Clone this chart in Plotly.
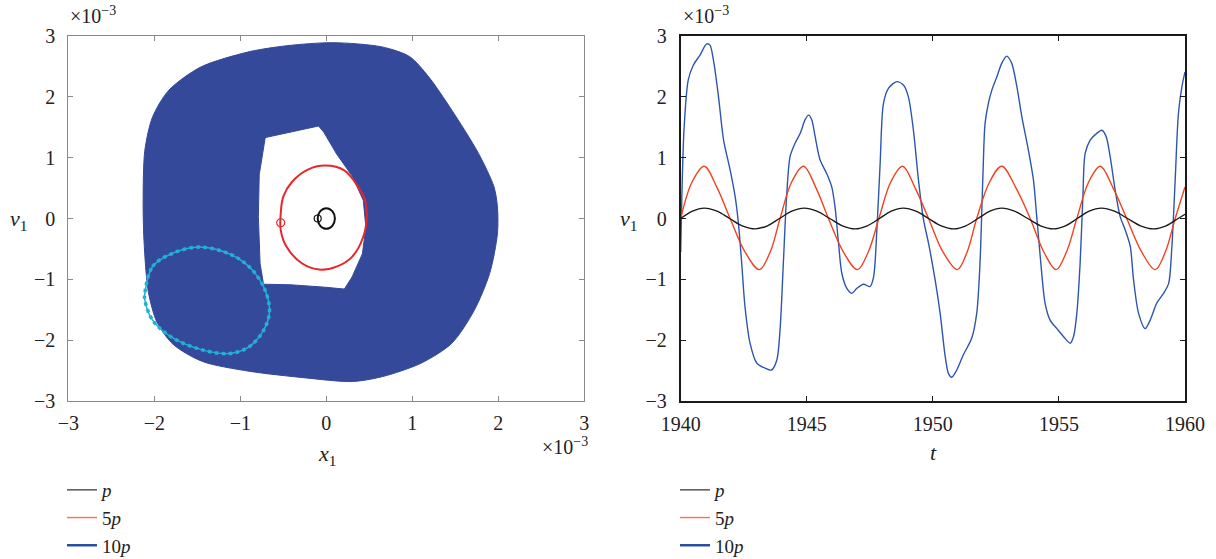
import plotly.graph_objects as go

# ---------------- data: left panel (phase portrait, units 1e-3) ----------------
torus_outer_x = [0.08, 0.65, 0.97, 1.19, 1.46, 1.77, 1.95, 1.99, 1.99, 1.90, 1.72, 1.46, 1.10, 0.65, 0.30,
                 -0.24, -0.90, -1.44, -1.78, -1.97, -2.07, -2.12, -2.13, -2.11, -2.02, -1.83, -1.46, -0.90, -0.46]
torus_outer_y = [2.89, 2.82, 2.66, 2.33, 1.78, 1.07, 0.52, 0.19, -0.25, -0.90, -1.51, -2.05, -2.38, -2.60, -2.68,
                 -2.62, -2.51, -2.35, -2.07, -1.70, -1.20, -0.36, 0.30, 1.12, 1.67, 2.11, 2.49, 2.74, 2.84]
torus_inner_x = [-0.71, -0.09, -0.03, 0.12, 0.30, 0.43, 0.46, 0.42, 0.30, 0.21, -0.01, -0.41, -0.73, -0.77, -0.79, -0.78]
torus_inner_y = [1.33, 1.52, 1.42, 1.06, 0.70, 0.30, -0.14, -0.58, -0.96, -1.16, -1.13, -1.09, -1.08, -0.74, 0.03, 0.72]

red_phase_x = [-0.01, 0.21, 0.37, 0.45, 0.47, 0.43, 0.30, 0.12, -0.08, -0.28, -0.46, -0.53, -0.53, -0.50, -0.40, -0.22, -0.01]
red_phase_y = [0.87, 0.79, 0.52, 0.30, 0.03, -0.30, -0.63, -0.79, -0.84, -0.74, -0.47, -0.19, 0.08, 0.36, 0.60, 0.80, 0.87]

black_phase_x = [0.10, 0.07, 0.00, -0.07, -0.10, -0.07, 0.00, 0.07, 0.10]
black_phase_y = [0.00, 0.12, 0.17, 0.12, 0.00, -0.12, -0.17, -0.12, 0.00]

cyan_x = [-2.11, -2.02, -1.80, -1.48, -1.13, -0.90, -0.73, -0.66, -0.73, -0.90, -1.13, -1.44, -1.80, -2.02, -2.11, -2.11]
cyan_y = [-1.23, -0.79, -0.58, -0.47, -0.58, -0.79, -1.12, -1.51, -1.84, -2.11, -2.22, -2.16, -1.95, -1.67, -1.34, -1.23]

start_red = ([-0.53], [-0.07])
start_black = ([-0.10], [0.00])

# ---------------- data: right panel (time series) ----------------
blue_t = [1940.0, 1940.13, 1940.3, 1940.5, 1940.77, 1941.03, 1941.16, 1941.3, 1941.5, 1941.7,
          1941.96, 1942.16, 1942.29, 1942.42, 1942.55, 1942.75, 1943.02, 1943.35, 1943.6, 1943.81,
          1943.94, 1944.07, 1944.2, 1944.34, 1944.54, 1944.74, 1944.93, 1945.07, 1945.2, 1945.33,
          1945.53, 1945.79, 1945.99, 1946.12, 1946.26, 1946.39, 1946.59, 1946.79, 1946.98, 1947.25,
          1947.51, 1947.65, 1947.78, 1947.91, 1948.04, 1948.24, 1948.57, 1948.84, 1949.03, 1949.23,
          1949.43, 1949.63, 1949.83,
          1950.09, 1950.29, 1950.49, 1950.62, 1950.75, 1950.95, 1951.21, 1951.54, 1951.74, 1951.87,
          1951.98, 1952.07, 1952.2, 1952.34, 1952.54, 1952.73, 1952.93, 1953.13, 1953.33, 1953.53,
          1953.79, 1953.99, 1954.12, 1954.26, 1954.45, 1954.65, 1954.92, 1955.18, 1955.45, 1955.58,
          1955.71, 1955.84, 1955.95, 1956.04, 1956.24, 1956.5, 1956.7, 1956.87, 1957.03, 1957.23,
          1957.43, 1957.63, 1957.83, 1957.96, 1958.16, 1958.42, 1958.62, 1958.88, 1959.15, 1959.35,
          1959.48, 1959.61, 1959.74, 1959.88, 1960.0]
blue_v = [-0.55, 1.45, 2.28, 2.52, 2.69, 2.87, 2.85, 2.6, 2.0, 1.29,
          0.8, 0.36, -0.08, -0.74, -1.45, -2.05, -2.38, -2.46, -2.49, -2.33,
          -1.83, -0.74, 0.36, 1.02, 1.24, 1.4, 1.62, 1.70, 1.62, 1.35,
          0.96, 0.74, 0.52, 0.19, -0.41, -0.9, -1.15, -1.23, -1.15, -1.08,
          -1.12, -0.96, -0.19, 0.91, 1.89, 2.14, 2.25, 2.19, 2.0, 1.45,
          0.63, -0.02, -0.41,
          -1.01, -1.56, -2.27, -2.55, -2.61, -2.49, -2.24, -1.97, -1.56, -0.74,
          0.63, 1.56, 1.89, 2.11, 2.33, 2.55, 2.67, 2.55, 2.17, 1.67,
          1.12, 0.63, 0.03, -0.63, -1.39, -1.67, -1.81, -1.94, -2.05, -1.94,
          -1.56, -0.74, 0.36, 1.07, 1.29, 1.4, 1.45, 1.35, 1.02, 0.47,
          0.03, -0.19, -0.46, -1.01, -1.56, -1.81, -1.67, -1.39, -1.23, -1.07,
          -0.46, 0.63, 1.73, 2.17, 2.41]

red_t = [1940.0, 1940.45, 1940.93, 1941.45, 1941.96, 1942.55, 1943.12, 1943.55, 1943.94, 1944.4,
         1944.87, 1945.37, 1945.86, 1946.45, 1947.01, 1947.44, 1947.86, 1948.33, 1948.8, 1949.3,
         1949.83, 1950.4, 1950.97, 1951.36, 1951.74, 1952.25, 1952.73, 1953.3, 1953.86, 1954.4,
         1954.89, 1955.3, 1955.71, 1956.18, 1956.64, 1957.15, 1957.69, 1958.28, 1958.82, 1959.22,
         1959.61, 1960.0]
red_v = [0.0, 0.6, 0.86, 0.5, 0.0, -0.55, -0.84, -0.55, 0.0, 0.6,
         0.86, 0.5, 0.0, -0.55, -0.84, -0.55, 0.0, 0.6, 0.86, 0.5,
         0.0, -0.55, -0.84, -0.55, 0.0, 0.6, 0.86, 0.5, 0.0, -0.55,
         -0.84, -0.55, 0.0, 0.6, 0.86, 0.5, 0.0, -0.55, -0.84, -0.55,
         0.0, 0.52]

black_t = [1940.0, 1940.47, 1940.93, 1941.44, 1941.94, 1942.44, 1942.95, 1943.44, 1943.92, 1944.41,
           1944.9, 1945.4, 1945.91, 1946.41, 1946.92, 1947.4, 1947.88, 1948.35, 1948.83, 1949.33,
           1949.83, 1950.33, 1950.84, 1951.31, 1951.79, 1952.26, 1952.73, 1953.24, 1953.76, 1954.27,
           1954.78, 1955.26, 1955.73, 1956.2, 1956.68, 1957.2, 1957.72, 1958.23, 1958.75, 1959.25,
           1959.73, 1960.0]
black_v = [0.0, 0.12, 0.17, 0.12, 0.0, -0.12, -0.17, -0.12, 0.0, 0.12,
           0.17, 0.12, 0.0, -0.12, -0.17, -0.12, 0.0, 0.12, 0.17, 0.12,
           0.0, -0.12, -0.17, -0.12, 0.0, 0.12, 0.17, 0.12, 0.0, -0.12,
           -0.17, -0.12, 0.0, 0.12, 0.17, 0.12, 0.0, -0.12, -0.17, -0.12,
           0.0, 0.07]

legend_names = ["<i>p</i>", "5<i>p</i>", "10<i>p</i>"]
legend_colors = ["#555555", "#F07a68", "#2B4FA0"]
legend_widths = [1.5, 1.5, 2.5]

SERIF = "Liberation Serif, Times New Roman, serif"
W, H = 1216, 559

fig = go.Figure()

# ----- left panel -----
fig.add_trace(go.Scatter(x=torus_outer_x + [torus_outer_x[0]], y=torus_outer_y + [torus_outer_y[0]],
                         mode="lines", line=dict(color="#34499A", width=1, shape="spline", smoothing=0.8),
                         fill="toself", fillcolor="#34499A", showlegend=False, hoverinfo="skip",
                         xaxis="x", yaxis="y"))
fig.add_trace(go.Scatter(x=torus_inner_x + [torus_inner_x[0]], y=torus_inner_y + [torus_inner_y[0]],
                         mode="lines", line=dict(color="#34499A", width=1),
                         fill="toself", fillcolor="white", showlegend=False, hoverinfo="skip",
                         xaxis="x", yaxis="y"))
fig.add_trace(go.Scatter(x=cyan_x, y=cyan_y, mode="lines",
                         line=dict(color="#22B0D4", width=1.5, shape="spline", smoothing=1.0),
                         showlegend=False, hoverinfo="skip", xaxis="x", yaxis="y"))
fig.add_trace(go.Scatter(x=cyan_x, y=cyan_y, mode="lines",
                         line=dict(color="#22B0D4", width=3.5, shape="spline", smoothing=1.0, dash="dot"),
                         showlegend=False, hoverinfo="skip", xaxis="x", yaxis="y"))
fig.add_trace(go.Scatter(x=red_phase_x, y=red_phase_y, mode="lines",
                         line=dict(color="#E8262A", width=2, shape="spline", smoothing=1.0),
                         showlegend=False, hoverinfo="skip", xaxis="x", yaxis="y"))
fig.add_trace(go.Scatter(x=black_phase_x, y=black_phase_y, mode="lines",
                         line=dict(color="#111111", width=2, shape="spline", smoothing=1.0),
                         showlegend=False, hoverinfo="skip", xaxis="x", yaxis="y"))
fig.add_trace(go.Scatter(x=start_red[0], y=start_red[1], mode="markers",
                         marker=dict(symbol="circle-open", size=8, color="#E8262A", line=dict(width=1.2)),
                         showlegend=False, hoverinfo="skip", xaxis="x", yaxis="y"))
fig.add_trace(go.Scatter(x=start_black[0], y=start_black[1], mode="markers",
                         marker=dict(symbol="circle-open", size=7, color="#111111", line=dict(width=1.2)),
                         showlegend=False, hoverinfo="skip", xaxis="x", yaxis="y"))

# ----- right panel -----
fig.add_trace(go.Scatter(x=blue_t, y=blue_v, mode="lines",
                         line=dict(color="#2D56AE", width=1.4, shape="spline", smoothing=0.8),
                         showlegend=False, hoverinfo="skip", xaxis="x2", yaxis="y2"))
fig.add_trace(go.Scatter(x=red_t, y=red_v, mode="lines",
                         line=dict(color="#F0421F", width=1.4, shape="spline", smoothing=1.0),
                         showlegend=False, hoverinfo="skip", xaxis="x2", yaxis="y2"))
fig.add_trace(go.Scatter(x=black_t, y=black_v, mode="lines",
                         line=dict(color="#1a1a1a", width=1.4, shape="spline", smoothing=1.0),
                         showlegend=False, hoverinfo="skip", xaxis="x2", yaxis="y2"))

# ----- legend entries (one legend under each panel) -----
for lg in ["legend", "legend2"]:
    for i, (nm, col, wd) in enumerate(zip(legend_names, legend_colors, legend_widths)):
        fig.add_trace(go.Scatter(x=[None], y=[None], mode="lines", name=nm,
                                 line=dict(color=col, width=wd), legend=lg, legendgroup=f"{lg}{i}",
                                 xaxis="x" if lg == "legend" else "x2",
                                 yaxis="y" if lg == "legend" else "y2"))

tickfont = dict(family=SERIF, size=20, color="#222222")
ydom = [1 - 401 / H, 1 - 36 / H]

common_ax = dict(ticks="inside", ticklen=5, showline=True, mirror="ticks", showgrid=False,
                 zeroline=False, tickfont=tickfont, automargin=False)

legfont = dict(family=SERIF, size=19, color="#222222")
fig.update_layout(
    width=W, height=H, autosize=False,
    margin=dict(l=0, r=0, t=0, b=0, pad=0, autoexpand=False),
    paper_bgcolor="white", plot_bgcolor="white",
    xaxis=dict(domain=[68.3 / W, 584.3 / W], range=[-3, 3], tickvals=[-3, -2, -1, 0, 1, 2, 3],
               linecolor="#8a8a8a", tickcolor="#8a8a8a", linewidth=1, anchor="y",
               ticklabelstandoff=4, **common_ax),
    yaxis=dict(domain=ydom, range=[-3, 3], tickvals=[-3, -2, -1, 0, 1, 2, 3],
               linecolor="#8a8a8a", tickcolor="#8a8a8a", linewidth=1, anchor="x",
               ticklabelstandoff=8, **common_ax),
    xaxis2=dict(domain=[680.7 / W, 1185 / W], range=[1940, 1960], tickvals=[1940, 1945, 1950, 1955, 1960],
                linecolor="#1a1a1a", tickcolor="#1a1a1a", linewidth=2, anchor="y2",
                ticklabelstandoff=4, **common_ax),
    yaxis2=dict(domain=ydom, range=[-3, 3], tickvals=[-3, -2, -1, 0, 1, 2, 3],
                linecolor="#1a1a1a", tickcolor="#1a1a1a", linewidth=2, anchor="x2",
                ticklabelstandoff=8, **common_ax),
    legend=dict(x=62 / W, y=1 - 471 / H, xanchor="left", yanchor="top", bgcolor="rgba(0,0,0,0)",
                font=legfont, tracegroupgap=0, itemwidth=30),
    legend2=dict(x=675 / W, y=1 - 471 / H, xanchor="left", yanchor="top", bgcolor="rgba(0,0,0,0)",
                 font=legfont, tracegroupgap=0, itemwidth=30),
    showlegend=True,
)

ann_font = dict(family=SERIF, size=20, color="#222222")
lab_font = dict(family=SERIF, size=22, color="#222222")
annotations = [
    dict(text="×10<sup>−3</sup>", x=68 / W, y=1 - 15 / H, xanchor="left", yanchor="middle", font=ann_font),
    dict(text="×10<sup>−3</sup>", x=681 / W, y=1 - 15 / H, xanchor="left", yanchor="middle", font=ann_font),
    dict(text="×10<sup>−3</sup>", x=590 / W, y=1 - 446 / H, xanchor="right", yanchor="middle", font=ann_font),
    dict(text="<i>x</i><sub>1</sub>", x=327 / W, y=1 - 455 / H, xanchor="center", yanchor="middle", font=lab_font),
    dict(text="<i>t</i>", x=933 / W, y=1 - 452 / H, xanchor="center", yanchor="middle", font=lab_font),
    dict(text="<i>v</i><sub>1</sub>", x=18 / W, y=1 - 220 / H, xanchor="center", yanchor="middle", font=lab_font),
    dict(text="<i>v</i><sub>1</sub>", x=628 / W, y=1 - 220 / H, xanchor="center", yanchor="middle", font=lab_font),
]
for a in annotations:
    a.update(xref="paper", yref="paper", showarrow=False)
fig.update_layout(annotations=annotations)

fig.write_html("out.html")
